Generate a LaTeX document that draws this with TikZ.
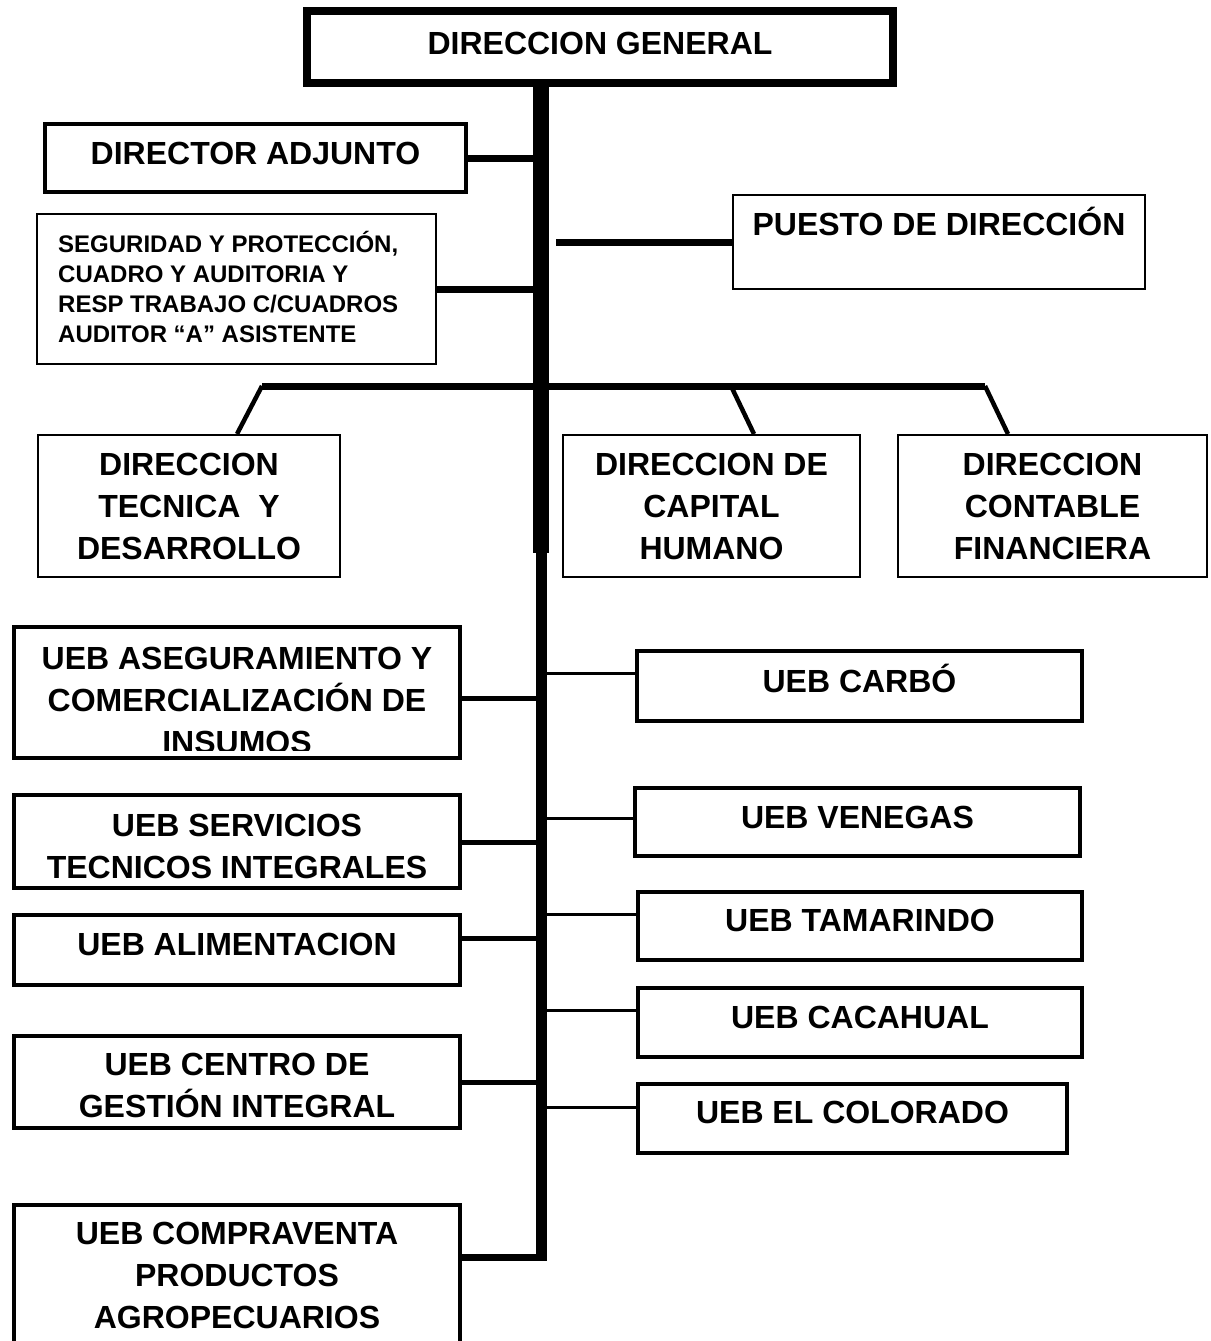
\documentclass[tikz,border=0pt]{standalone}
\usepackage{fontspec}
\setmainfont{Liberation Sans}
\usetikzlibrary{positioning,calc}

\begin{document}
\begin{tikzpicture}[
    x=1pt, y=-1pt,
    heavybox/.style={rectangle, draw, line width=8pt, inner sep=0pt},
    unitbox/.style={rectangle, draw, line width=4pt, inner sep=0pt},
    plainbox/.style={rectangle, draw, line width=2pt, inner sep=0pt},
    boxtext/.style={inner sep=0pt, align=center, font=\bfseries\fontsize{32}{42}\selectfont, execute at begin node=\strut},
    smalltext/.style={inner sep=0pt, align=left, font=\bfseries\fontsize{24}{30}\selectfont, execute at begin node=\strut},
    trunk/.style={line width=#1},
    link/.style={line width=#1}
]
    \useasboundingbox (0,0) rectangle (1210,1341);

    % Direccion
    \node[heavybox, minimum width=586pt, minimum height=72pt] (dg) at (600,47) {};
    \node[boxtext, below=18pt of dg.north] (dgtext) {DIRECCION GENERAL};

    \node[unitbox, minimum width=421pt, minimum height=68pt] (da) at (255.5,158) {};
    \node[boxtext, below=13pt of da.north] (datext) {DIRECTOR ADJUNTO};

    \node[plainbox, minimum width=399pt, minimum height=150pt] (seg) at (236.5,289) {};
    \node[smalltext, below right=17.6pt and 22pt of seg.north west] (segtext)
        {SEGURIDAD Y PROTECCIÓN,\\CUADRO Y AUDITORIA Y\\RESP TRABAJO C/CUADROS\\AUDITOR “A” ASISTENTE};

    \node[plainbox, minimum width=412pt, minimum height=94pt] (puesto) at (939,242) {};
    \node[boxtext, below=12pt of puesto.north] (puestotext) {PUESTO DE DIRECCIÓN};

    % Direcciones funcionales
    \node[plainbox, minimum width=302pt, minimum height=142pt] (tecnica) at (189,506) {};
    \node[boxtext, below=19pt of tecnica.north] (tecnicatext) {DIRECCION\\TECNICA\ \ Y\\DESARROLLO};

    \node[plainbox, minimum width=297pt, minimum height=142pt] (capital) at (711.5,506) {};
    \node[boxtext, below=19pt of capital.north] (capitaltext) {DIRECCION DE\\CAPITAL\\HUMANO};

    \node[plainbox, minimum width=309pt, minimum height=142pt] (contable) at (1052.5,506) {};
    \node[boxtext, below=19pt of contable.north] (contabletext) {DIRECCION\\CONTABLE\\FINANCIERA};

    % UEB izquierda
    \node[unitbox, minimum width=446pt, minimum height=131pt] (aseg) at (237,692.5) {};
    \begin{scope}
        \clip (aseg.north west) rectangle ([yshift=10pt]aseg.south east);
        \node[boxtext, below=22pt of aseg.north] (asegtext) {UEB ASEGURAMIENTO Y\\COMERCIALIZACIÓN DE\\INSUMOS};
    \end{scope}

    \node[unitbox, minimum width=446pt, minimum height=93pt] (serv) at (237,841.5) {};
    \node[boxtext, below=21pt of serv.north] (servtext) {UEB SERVICIOS\\TECNICOS INTEGRALES};

    \node[unitbox, minimum width=446pt, minimum height=70pt] (alim) at (237,950) {};
    \node[boxtext, below=13pt of alim.north] (alimtext) {UEB ALIMENTACION};

    \node[unitbox, minimum width=446pt, minimum height=92pt] (centro) at (237,1082) {};
    \node[boxtext, below=19pt of centro.north] (centrotext) {UEB CENTRO DE\\GESTIÓN INTEGRAL};

    \node[unitbox, minimum width=446pt, minimum height=147pt] (compra) at (237,1278.5) {};
    \node[boxtext, below=19pt of compra.north] (compratext) {UEB COMPRAVENTA\\PRODUCTOS\\AGROPECUARIOS};

    % UEB derecha
    \node[unitbox, minimum width=445pt, minimum height=70pt] (carbo) at (859.5,686) {};
    \node[boxtext, below=14pt of carbo.north] (carbotext) {UEB CARBÓ};

    \node[unitbox, minimum width=445pt, minimum height=68pt] (venegas) at (857.5,822) {};
    \node[boxtext, below=13pt of venegas.north] (venegastext) {UEB VENEGAS};

    \node[unitbox, minimum width=444pt, minimum height=68pt] (tamarindo) at (860,926) {};
    \node[boxtext, below=12pt of tamarindo.north] (tamarindotext) {UEB TAMARINDO};

    \node[unitbox, minimum width=444pt, minimum height=69pt] (cacahual) at (860,1022.5) {};
    \node[boxtext, below=13pt of cacahual.north] (cacahualtext) {UEB CACAHUAL};

    \node[unitbox, minimum width=429pt, minimum height=69pt] (colorado) at (852.5,1118.5) {};
    \node[boxtext, below=12pt of colorado.north] (coloradotext) {UEB EL COLORADO};

    % Tronco
    \coordinate (spmid) at (541,553);
    \coordinate (spbot) at (541,1261);
    \draw[trunk=16pt] (dg.south -| spmid) -- (spmid);
    \draw[trunk=11pt] (spmid) -- (spbot);

    \coordinate (jpuesto) at (556,242);
    \coordinate (jaseg) at (541,698);
    \coordinate (jserv) at (541,842);
    \coordinate (jalim) at (541,938);
    \coordinate (jcentro) at (541,1082);
    \coordinate (jcompra) at (541,1257.5);
    \coordinate (jcarbo) at (541,673);
    \coordinate (jvenegas) at (541,818);
    \coordinate (jtamarindo) at (541,914);
    \coordinate (jcacahual) at (541,1010);
    \coordinate (jcolorado) at (541,1107);

    \coordinate (barL) at (262,386);
    \coordinate (barM) at (731,386);
    \coordinate (barR) at (985,386);

    % Enlaces
    \draw[link=7pt] (da.east) -- (da.east -| spmid);
    \draw[link=7pt] (seg.east) -- (seg.east -| spmid);
    \draw[link=7pt] (jpuesto) -- (puesto.west |- jpuesto);

    \draw[link=7pt] (barL) -- (barR);
    \draw[link=4.5pt] (barL) -- ([xshift=48pt]tecnica.north);
    \draw[link=4.5pt] (barM) -- ([xshift=42.5pt]capital.north);
    \draw[link=4.5pt] (barR) -- ([xshift=-44.5pt]contable.north);

    \draw[link=5pt] (aseg.east |- jaseg) -- (jaseg);
    \draw[link=5pt] (serv.east |- jserv) -- (jserv);
    \draw[link=5pt] (alim.east |- jalim) -- (jalim);
    \draw[link=5pt] (centro.east |- jcentro) -- (jcentro);
    \draw[link=7pt] (compra.east |- jcompra) -- ([xshift=5.5pt]jcompra);

    \draw[link=3pt] (jcarbo) -- (carbo.west |- jcarbo);
    \draw[link=3pt] (jvenegas) -- (venegas.west |- jvenegas);
    \draw[link=3pt] (jtamarindo) -- (tamarindo.west |- jtamarindo);
    \draw[link=3pt] (jcacahual) -- (cacahual.west |- jcacahual);
    \draw[link=3pt] (jcolorado) -- (colorado.west |- jcolorado);

\end{tikzpicture}
\end{document}
